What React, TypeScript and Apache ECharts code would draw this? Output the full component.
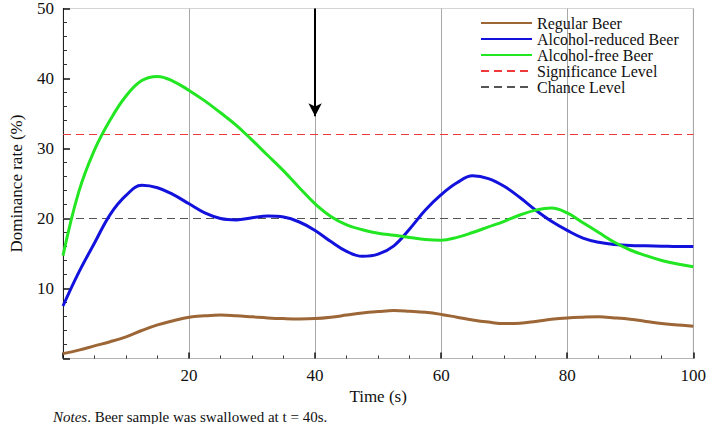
import React, { useEffect, useRef } from "react";
import * as echarts from "echarts";

const time = [
  0, 2.5, 5, 7.5, 10, 12.5, 15, 17.5, 20, 22.5, 25, 27.5, 30, 32.5, 35, 37.5, 40,
  42.5, 45, 47.5, 50, 52.5, 55, 57.5, 60, 62.5, 65, 67.5, 70, 72.5, 75, 77.5, 80,
  82.5, 85, 87.5, 90, 92.5, 95, 97.5, 100,
];
const regularBeer = [
  0.7, 1.2, 1.8, 2.4, 3.1, 4.0, 4.8, 5.4, 5.9, 6.1, 6.2, 6.1, 5.95, 5.8, 5.7, 5.65, 5.7,
  5.9, 6.2, 6.5, 6.7, 6.85, 6.75, 6.6, 6.3, 5.9, 5.5, 5.2, 5.0, 5.05, 5.3, 5.6, 5.8,
  5.9, 5.95, 5.8, 5.6, 5.3, 5.0, 4.8, 4.6,
];
const alcoholReduced = [
  7.5, 12.3, 16.5, 20.6, 23.3, 24.75, 24.4, 23.4, 22.1, 20.8, 20.0, 19.8, 20.1, 20.35, 20.2, 19.5, 18.3,
  16.7, 15.3, 14.6, 14.9, 16.1, 18.5, 21.2, 23.4, 25.1, 26.1, 25.7, 24.6, 23.0, 21.2, 19.6, 18.3,
  17.2, 16.6, 16.3, 16.15, 16.1, 16.05, 16.0, 16.0,
];
const alcoholFree = [
  14.7, 23.8, 29.8, 34.1, 37.5, 39.7, 40.3, 39.6, 38.3, 36.8, 35.1, 33.3, 31.2, 29.0, 26.8, 24.4, 22.1,
  20.3, 19.1, 18.4, 17.9, 17.6, 17.3, 17.0, 16.9, 17.3, 18.0, 18.8, 19.6, 20.5, 21.2, 21.5, 20.8,
  19.4, 18.0, 16.6, 15.5, 14.7, 14.0, 13.5, 13.1,
];
const significanceLevel = 32;
const chanceLevel = 20;
const swallowTime = 40;
const arrowEnd = 34.6;
const yTicks = [10, 20, 30, 40, 50];
const xTicks = [20, 40, 60, 80, 100];

const FONT = "Liberation Serif";
const serif17 = { fontFamily: FONT, fontSize: 17, color: "#111" };

const pair = (ys: number[]) => time.map((t, i) => [t, ys[i]]);

export default function App() {
  const ref = useRef<HTMLDivElement>(null);
  useEffect(() => {
    document.body.style.margin = "0";
    const chart = echarts.init(ref.current!, null, { renderer: "svg" });
    const solid = (name: string, data: number[], color: string, extra: any = {}) => ({
      name,
      type: "line",
      data: pair(data),
      smooth: 0.4,
      showSymbol: false,
      symbol: "none",
      lineStyle: { color, width: 3 },
      itemStyle: { color },
      z: 3,
      silent: true,
      ...extra,
    });
    chart.setOption({
      animation: false,
      textStyle: { fontFamily: FONT },
      title: {
        text: "{i|Notes}. Beer sample was swallowed at t = 40s.",
        left: 53,
        top: 409,
        padding: 0,
        textStyle: {
          fontFamily: FONT,
          fontSize: 15,
          fontWeight: "normal",
          color: "#111",
          rich: {
            i: { fontFamily: FONT, fontSize: 15, fontStyle: "italic", color: "#111" },
          },
        },
      },
      grid: {
        left: 53.5,
        right: 12,
        top: 7,
        bottom: 65.5,
        show: true,
        borderColor: "#d4d4d4",
        borderWidth: 1,
      },
      legend: {
        orient: "vertical",
        left: 480,
        top: 15,
        padding: 0,
        itemWidth: 51,
        itemHeight: 14,
        itemGap: 0,
        itemStyle: { opacity: 0 },
        textStyle: { fontFamily: FONT, fontSize: 16, color: "#111" },
        data: [
          "Regular Beer",
          "Alcohol-reduced Beer",
          "Alcohol-free Beer",
          "Significance Level",
          "Chance Level",
        ],
      },
      xAxis: {
        type: "value",
        min: 0,
        max: 100,
        interval: 20,
        name: "Time (s)",
        nameLocation: "middle",
        nameGap: 29,
        nameTextStyle: serif17,
        axisLine: { show: true, lineStyle: { color: "#b4b4b4", width: 1 } },
        axisTick: { show: true, inside: true, length: 6, lineStyle: { color: "#111", width: 1.5 } },
        minorTick: { show: true, splitNumber: 4, length: 3, lineStyle: { color: "#333" } },
        axisLabel: {
          ...serif17,
          margin: 8,
          formatter: (v: number) => (xTicks.includes(v) ? String(v) : ""),
        },
        splitLine: { show: true, lineStyle: { color: "#a8a8a8", width: 1 } },
      },
      yAxis: {
        type: "value",
        min: 0,
        max: 50,
        interval: 10,
        name: "Dominance rate (%)",
        nameLocation: "middle",
        nameGap: 38,
        nameTextStyle: serif17,
        axisLine: { show: true, lineStyle: { color: "#222", width: 1 } },
        axisTick: { show: true, inside: true, length: 7, lineStyle: { color: "#111", width: 1.5 } },
        minorTick: { show: true, splitNumber: 5, length: 4, lineStyle: { color: "#333" } },
        axisLabel: {
          ...serif17,
          margin: 9,
          formatter: (v: number) => (yTicks.includes(v) ? String(v) : ""),
        },
        splitLine: { show: false },
      },
      series: [
        {
          name: "Significance Level",
          type: "line",
          data: [
            [0, significanceLevel],
            [100, significanceLevel],
          ],
          showSymbol: false,
          symbol: "none",
          lineStyle: { color: "#ee3a3a", width: 1.2, type: [8, 5] },
          itemStyle: { color: "#ee3a3a" },
          z: 2,
          silent: true,
        },
        {
          name: "Chance Level",
          type: "line",
          data: [
            [0, chanceLevel],
            [100, chanceLevel],
          ],
          showSymbol: false,
          symbol: "none",
          lineStyle: { color: "#555", width: 1.2, type: [8, 5] },
          itemStyle: { color: "#555" },
          z: 2,
          silent: true,
        },
        solid("Regular Beer", regularBeer, "#9c6636", {
          markLine: {
            silent: true,
            symbol: ["none", "arrow"],
            symbolSize: [10, 13],
            label: { show: false },
            lineStyle: { color: "#000", width: 2, type: "solid" },
            emphasis: { disabled: true },
            data: [[{ coord: [swallowTime, 50] }, { coord: [swallowTime, arrowEnd] }]],
          },
        }),
        solid("Alcohol-reduced Beer", alcoholReduced, "#1212dc"),
        solid("Alcohol-free Beer", alcoholFree, "#22e622"),
      ],
    });
    return () => chart.dispose();
  }, []);
  return (
    <div
      ref={ref}
      style={{ position: "absolute", left: 0, top: 0, width: 709, height: 424, background: "#fff" }}
    />
  );
}
